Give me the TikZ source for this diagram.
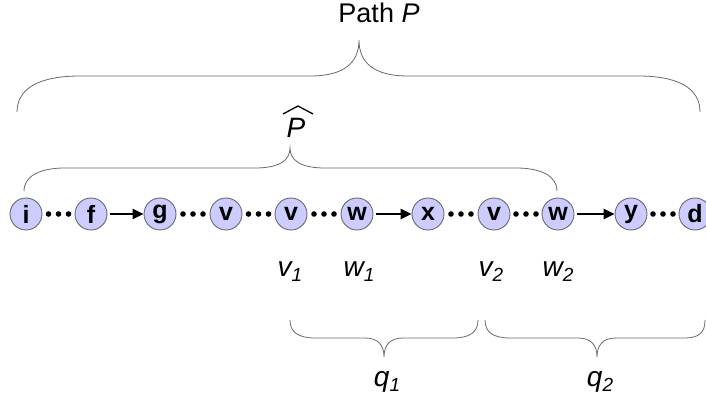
\documentclass[tikz,border=0pt]{standalone}
\usepackage{fontspec}
\setmainfont{Liberation Sans}
\usetikzlibrary{arrows.meta,decorations.markings}
\definecolor{nodefill}{RGB}{204,204,255}
\definecolor{nodeline}{RGB}{105,105,115}
\definecolor{bracegray}{RGB}{105,105,105}
\newcommand{\subidx}[1]{\raisebox{-5pt}{\fontsize{19}{19}\selectfont #1}}
\begin{document}
\begin{tikzpicture}[x=1pt,y=-1pt,
  vertex/.style={circle,draw=nodeline,fill=nodefill,line width=0.9pt,
    minimum size=32pt,inner sep=0pt,font=\fontsize{25}{25}\selectfont\bfseries},
  dotlink/.style={decorate,decoration={markings,
    mark=at position 0.5 with {\fill[black] (-10pt,0) circle (2.8pt) (0,0) circle (2.8pt) (10pt,0) circle (2.8pt);}}},
  arrowlink/.style={draw=black,line width=2.6pt,shorten <=3pt,
    -{Triangle[length=11pt,width=10pt]}},
  bracepath/.style={draw=bracegray,line width=0.8pt},
  label/.style={font=\fontsize{28}{28}\selectfont\itshape,inner sep=0pt},
  title/.style={font=\fontsize{27}{27}\selectfont,inner sep=0pt}]
\useasboundingbox (0,0) rectangle (706,411);

% path nodes
\node[vertex] (i)  at (26,214)  {i};
\node[vertex] (f)  at (91,214)  {f};
\node[vertex] (g)  at (160,214) {g};
\node[vertex] (v0) at (226,214) {v};
\node[vertex] (v1) at (291,214) {v};
\node[vertex] (w1) at (357,214) {w};
\node[vertex] (x)  at (428,214) {x};
\node[vertex] (v2) at (494,214) {v};
\node[vertex] (w2) at (558,214) {w};
\node[vertex] (y)  at (631,214) {y};
\node[vertex] (d)  at (695,214) {d};

% connectors
\path[dotlink] (i) -- (f);
\draw[arrowlink] (f) -- (g);
\path[dotlink] (g) -- (v0);
\path[dotlink] (v0) -- (v1);
\path[dotlink] (v1) -- (w1);
\draw[arrowlink] (w1) -- (x);
\path[dotlink] (x) -- (v2);
\path[dotlink] (v2) -- (w2);
\draw[arrowlink] (w2) -- (y);
\path[dotlink] (y) -- (d);

% outer brace over the whole path
\draw[bracepath] (17,112) .. controls (17,88) and (40,76) .. (80,76)
  -- (310,76) .. controls (345,76) and (359,62) .. (359,40)
  .. controls (359,62) and (373,76) .. (408,76)
  -- (638,76) .. controls (678,76) and (700,88) .. (700,112);
\node[title] (pathP) at (379,13) {Path \textit{P}};

% inner brace
\draw[bracepath] (24,191) .. controls (24,176) and (40,168) .. (65,168)
  -- (255,168) .. controls (280,168) and (290,160) .. (290,148)
  .. controls (290,160) and (300,168) .. (325,168)
  -- (516,168) .. controls (541,168) and (557,176) .. (557,191);
\node[label] (Phat) at (296,128) {P};
\draw[line width=1.3pt] (283,114) -- (298,106) -- (313,114);

% vertex labels
\node[label] (lv1) at (290,272) {v\subidx{1}};
\node[label] (lw1) at (359,272) {w\subidx{1}};
\node[label] (lv2) at (491,272) {v\subidx{2}};
\node[label] (lw2) at (558,272) {w\subidx{2}};

% lower braces
\draw[bracepath] (290,320) .. controls (290,332) and (298,338) .. (315,338)
  -- (365,338) .. controls (378,338) and (384,345) .. (384,357)
  .. controls (384,345) and (390,338) .. (403,338)
  -- (453,338) .. controls (470,338) and (478,332) .. (478,320);
\draw[bracepath] (485,320) .. controls (485,332) and (493,338) .. (510,338)
  -- (578,338) .. controls (591,338) and (597,345) .. (597,357)
  .. controls (597,345) and (603,338) .. (616,338)
  -- (684,338) .. controls (700,338) and (705,332) .. (705,320);
\node[label] (q1) at (387,382) {q\subidx{1}};
\node[label] (q2) at (600,382) {q\subidx{2}};
\end{tikzpicture}
\end{document}
